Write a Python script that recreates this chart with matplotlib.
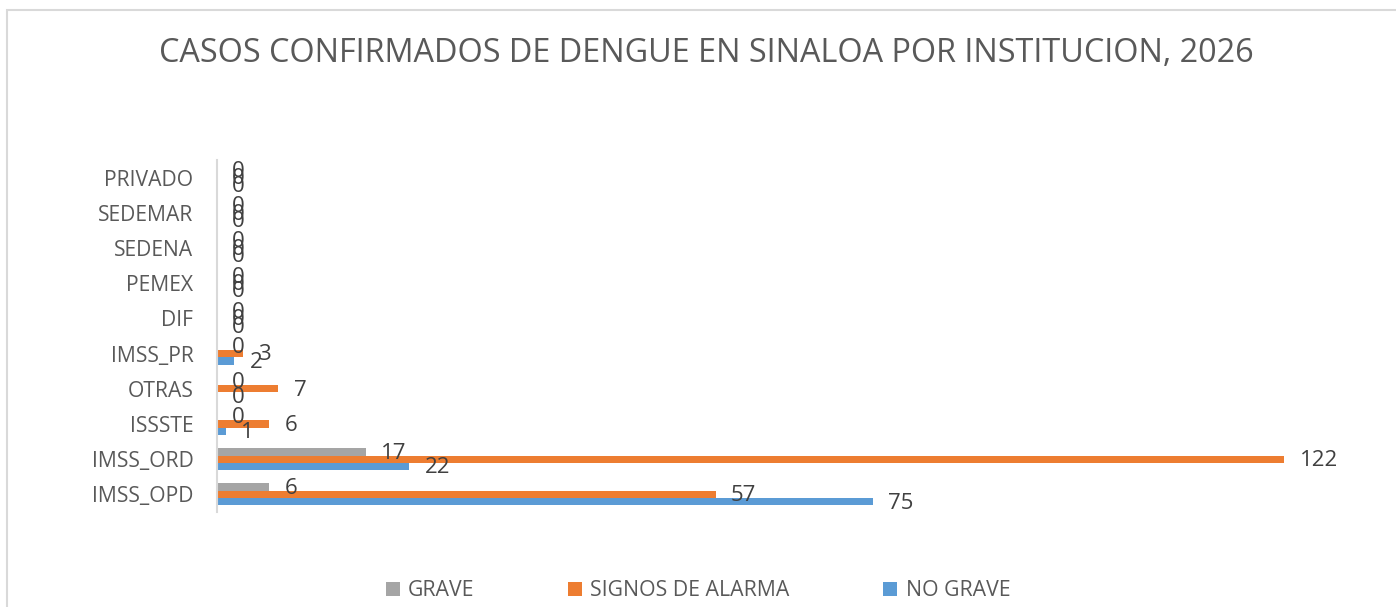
import numpy as np
import matplotlib
matplotlib.use("Agg")
import matplotlib.pyplot as plt
from matplotlib.patches import Rectangle

# data (bottom to top as drawn)
instituciones = ["IMSS_OPD", "IMSS_ORD", "ISSSTE", "OTRAS", "IMSS_PR",
                 "DIF", "PEMEX", "SEDENA", "SEDEMAR", "PRIVADO"]
no_grave = [75, 22, 1, 0, 2, 0, 0, 0, 0, 0]
signos_alarma = [57, 122, 6, 7, 3, 0, 0, 0, 0, 0]
grave = [6, 17, 0, 0, 0, 0, 0, 0, 0, 0]
titulo = "CASOS CONFIRMADOS DE DENGUE EN SINALOA POR INSTITUCION, 2026"

plt.rcParams['font.family'] = ['Open Sans', 'DejaVu Sans']
gris_txt = '#595959'

W, H = 1396, 607
fig = plt.figure(figsize=(W / 100, H / 100), dpi=100)
ax = fig.add_axes([217 / W, 1 - 512 / H, (1300 - 217) / W, (512 - 160) / H])

y = np.arange(len(instituciones))
h = 0.21
series = [
    (no_grave, -h, '#5b9bd5', 'NO GRAVE'),
    (signos_alarma, 0, '#ed7d31', 'SIGNOS DE ALARMA'),
    (grave, h, '#a5a5a5', 'GRAVE'),
]
handles = {}
for vals, off, col, nombre in series:
    bars = ax.barh(y + off, vals, height=h, color=col, label=nombre)
    handles[nombre] = bars
    for yy, v in zip(y + off, vals):
        ax.annotate(str(v), (v, yy), xytext=(11, -1), textcoords='offset points',
                    ha='left', va='center', fontsize=16, color='#404040')

ax.set_xlim(0, 123.8)
ax.set_ylim(-0.5, len(instituciones) - 0.5)
ax.set_yticks(y)
ax.set_yticklabels(instituciones, fontsize=15.2, color=gris_txt)
ax.tick_params(axis='y', length=0, pad=17)
ax.set_xticks([])
for s in ['top', 'right', 'bottom']:
    ax.spines[s].set_visible(False)
ax.spines['left'].set_color('#d9d9d9')
ax.spines['left'].set_linewidth(1.5)

fig.text(706 / W, 1 - 53 / H, titulo, ha='center', va='center',
         fontsize=23.3, color=gris_txt)

orden = ['GRAVE', 'SIGNOS DE ALARMA', 'NO GRAVE']
fig.legend([handles[n] for n in orden], orden, loc='center',
           bbox_to_anchor=(698 / W, 1 - 591 / H), ncol=3, frameon=False,
           fontsize=15.3, labelcolor=gris_txt, handlelength=0.65, handleheight=0.65,
           handletextpad=0.4, columnspacing=4.4)

fig.patches.append(Rectangle((7 / W, -0.1), 1.2, 1 - 9.5 / H + 0.1,
                             transform=fig.transFigure, fill=False,
                             edgecolor='#d9d9d9', linewidth=1.5))

fig.savefig('out.png', dpi=100)
